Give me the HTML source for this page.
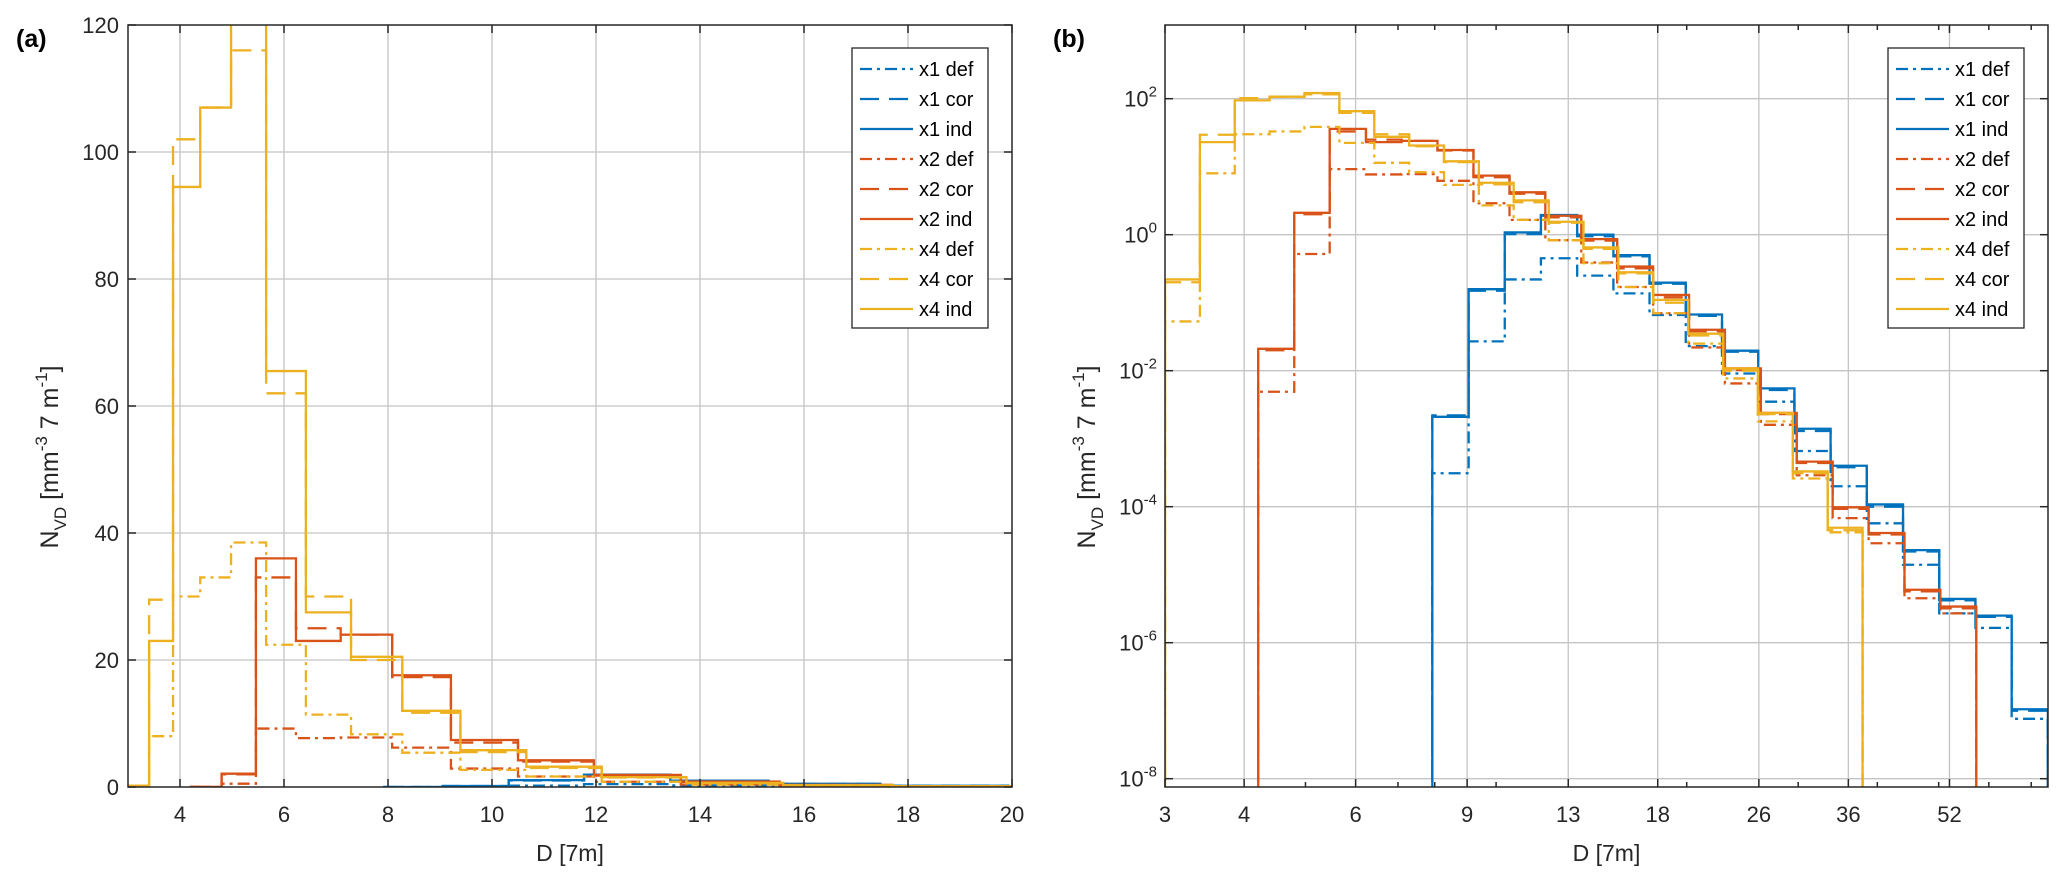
<!DOCTYPE html>
<html><head><meta charset="utf-8"><style>
html,body{margin:0;padding:0;background:#fff;}
svg{display:block;font-family:"Liberation Sans",sans-serif;}
</style></head><body>
<svg id="fig" width="2067" height="884" viewBox="0 0 2067 884" xmlns="http://www.w3.org/2000/svg">
<defs>
<clipPath id="clipA"><rect x="128" y="25" width="884" height="762"/></clipPath>
<clipPath id="clipB"><rect x="1165" y="25" width="883" height="762"/></clipPath>
</defs>
<g id="gA"></g>
<g id="gB"></g>
</svg>
<script>
// ---- data ----
const yEdges = [3.0,3.406,3.866,4.389,4.982,5.656,6.421,7.289,8.275,9.393,10.66,12.11,13.74,15.60,17.71,20.11,22.83,25.91,29.42,33.39,37.91];
const rEdges = [4.21,4.80,5.46,6.23,7.09,8.08,9.21,10.50,11.96,13.63,15.53,17.70,20.17,22.98,26.19,29.84,34.00,38.75,44.15,50.31,57.33];
const bEdges = [7.93,9.05,10.32,11.77,13.43,15.32,17.47,19.93,22.74,25.94,29.59,33.75,38.50,43.92,50.10,57.15,65.19,74.37];

const x1Def = [3.1e-4,0.027,0.22,0.45,0.25,0.137,0.066,0.023,0.0091,0.0035,6.6e-4,2e-4,5.7e-5,1.4e-5,2.7e-6,1.65e-6,7.6e-8];
const x1Cor = [0.0022,0.15,1.02,1.9,0.95,0.48,0.19,0.064,0.019,0.0052,0.0013,3.8e-4,1.0e-4,2.2e-5,4.2e-6,2.4e-6,1.0e-7];
const x1Ind = [0.0021,0.158,1.08,1.95,1.0,0.5,0.197,0.067,0.0197,0.0055,0.0014,4e-4,1.08e-4,2.3e-5,4.4e-6,2.5e-6,1.05e-7];
const x2Def = [0.0049,0.52,9.2,7.7,7.8,6.2,2.9,1.65,0.83,0.39,0.17,0.07,0.022,0.0065,0.0016,2.9e-4,6.8e-5,2.9e-5,4.5e-6,2.7e-6];
const x2Cor = [0.02,2.0,33,25,24,17.3,7.0,4.0,1.8,0.82,0.32,0.12,0.038,0.0102,0.0023,4.4e-4,9.3e-5,3.9e-5,5.7e-6,3.2e-6];
const x2Ind = [0.021,2.1,36,23,24,17.6,7.4,4.2,1.9,0.86,0.34,0.13,0.04,0.0108,0.0024,4.6e-4,9.8e-5,4.1e-5,6e-6,3.4e-6];
const x4Def = [0.053,8,30,33,38.5,22.4,11.4,8.3,5.4,2.7,1.65,0.83,0.38,0.17,0.07,0.025,0.0077,0.0018,2.6e-4,4.2e-5];
const x4Cor = [0.2,29.5,102,107,116,62,30,20,11.7,5.5,3.0,1.5,0.62,0.27,0.1,0.033,0.010,0.0023,3.1e-4,4.5e-5];
const x4Ind = [0.22,23,94.5,107,121,65.5,27.5,20.5,12,5.8,3.2,1.55,0.65,0.28,0.11,0.035,0.0108,0.0024,3.3e-4,4.9e-5];

const seriesNames = ['x1 def','x1 cor','x1 ind','x2 def','x2 cor','x2 ind','x4 def','x4 cor','x4 ind'];
const aXTicks = [4,6,8,10,12,14,16,18,20];
const aYTicks = [0,20,40,60,80,100,120];
const bXTicks = [3,4,6,9,13,18,26,36,52];
const bXMinor = [5,7,8,10,20,30,40,50,60,70];
const bYExp = [-8,-6,-4,-2,0,2];

// ---- helpers ----
const NS='http://www.w3.org/2000/svg';
function mk(tag, attrs, parent){const e=document.createElementNS(NS,tag);for(const k in attrs)e.setAttribute(k,attrs[k]);parent.appendChild(e);return e;}
const BLUE='#0072BD', RED='#D95319', YEL='#EDB120';
const DASHDOT='12,5,3,5', DASH='19,10';
const series=[
 {v:x1Def,e:bEdges,c:BLUE,d:DASHDOT,n:'x1-def'},
 {v:x1Cor,e:bEdges,c:BLUE,d:DASH,n:'x1-cor'},
 {v:x1Ind,e:bEdges,c:BLUE,d:'',n:'x1-ind'},
 {v:x2Def,e:rEdges,c:RED,d:DASHDOT,n:'x2-def'},
 {v:x2Cor,e:rEdges,c:RED,d:DASH,n:'x2-cor'},
 {v:x2Ind,e:rEdges,c:RED,d:'',n:'x2-ind'},
 {v:x4Def,e:yEdges,c:YEL,d:DASHDOT,n:'x4-def'},
 {v:x4Cor,e:yEdges,c:YEL,d:DASH,n:'x4-cor'},
 {v:x4Ind,e:yEdges,c:YEL,d:'',n:'x4-ind'}];

const A={l:128,r:1012,t:25,b:787};
const B={l:1165,r:2048,t:25,b:787};
const axA={x:D=>A.l+(D-3)*52, y:v=>A.b-v*6.35};
const axB={x:D=>B.l+275*Math.log(D/3), y:v=>{ if(v<=0) return B.b+20; return 234.7-68*Math.log10(v);} };

function panel(g, box, ax, isLog, clip, label){
  const grid=mk('g',{},g);
  
  
  const xt = isLog?bXTicks:aXTicks;
  xt.forEach(t=>{const x=ax.x(t); if(x>box.l+1&&x<box.r-1) mk('line',{x1:x,x2:x,y1:box.t,y2:box.b,stroke:'#c4c4c4','stroke-width':1.3},grid);});
  const yt = isLog?bYExp.map(e=>Math.pow(10,e)):aYTicks;
  yt.forEach(t=>{const y=ax.y(t); if(y>box.t+1&&y<box.b-1) mk('line',{x1:box.l,x2:box.r,y1:y,y2:y,stroke:'#c4c4c4','stroke-width':1.3},grid);});
  const sg=mk('g',{'clip-path':'url(#'+clip+')'},g);
  series.forEach(s=>{
    const base = isLog? box.b+20 : ax.y(0);
    let d='M'+ax.x(s.e[0])+','+base;
    s.v.forEach((v,i)=>{const y=ax.y(v); d+=' L'+ax.x(s.e[i])+','+y+' L'+ax.x(s.e[i+1])+','+y;});
    d+=' L'+ax.x(s.e[s.v.length])+','+base;
    const p=mk('path',{d:d,fill:'none',stroke:s.c,'stroke-width':2.3},sg);
    if(s.d)p.setAttribute('stroke-dasharray',s.d);
    
    
  });
  const bx=mk('rect',{x:box.l,y:box.t,width:box.r-box.l,height:box.b-box.t,fill:'none',stroke:'#262626','stroke-width':1.5},g);
  
  
  const tk=mk('g',{stroke:'#262626','stroke-width':1.5},g);
  const tl=mk('g',{fill:'#262626','font-size':'22px'},g);
  
  
  xt.forEach(t=>{const x=ax.x(t);
    mk('line',{x1:x,x2:x,y1:box.b,y2:box.b-8},tk);mk('line',{x1:x,x2:x,y1:box.t,y2:box.t+8},tk);
    const tx=mk('text',{x:x,y:box.b+35,'text-anchor':'middle'},tl);tx.textContent=String(t);
  });
  if(isLog){bXMinor.forEach(t=>{const x=ax.x(t); if(x<box.r){mk('line',{x1:x,x2:x,y1:box.b,y2:box.b-5},tk);mk('line',{x1:x,x2:x,y1:box.t,y2:box.t+5},tk);}});}
  yt.forEach((t,i)=>{const y=ax.y(t);
    mk('line',{x1:box.l,x2:box.l+8,y1:y,y2:y},tk);mk('line',{x1:box.r,x2:box.r-8,y1:y,y2:y},tk);
    if(isLog){
      const tx=mk('text',{x:box.l-8,y:y+8,'text-anchor':'end'},tl);
      const t1=mk('tspan',{},tx);t1.textContent='10';
      const t2=mk('tspan',{dy:-10,'font-size':'15px'},tx);t2.textContent=String(bYExp[i]);
    } else {
      const tx=mk('text',{x:box.l-9,y:y+8,'text-anchor':'end'},tl);tx.textContent=String(t);
    }
  });
  const xtitle=mk('text',{x:(box.l+box.r)/2,y:861,'text-anchor':'middle','font-size':'23px',fill:'#262626'},g);
  xtitle.textContent='D [7m]';
  
  
  const yx=box.l-70;
  const yti=mk('text',{x:0,y:0,'text-anchor':'middle','font-size':'25px',fill:'#262626',transform:'translate('+yx+',457) rotate(-90)'},g);
  
  
  const a=mk('tspan',{},yti);a.textContent='N';
  const b=mk('tspan',{dy:8,'font-size':'17px'},yti);b.textContent='VD';
  const c=mk('tspan',{dy:-8},yti);c.textContent='  [mm';
  const d=mk('tspan',{dy:-11,'font-size':'17px'},yti);d.textContent='-3';
  const e=mk('tspan',{dy:11},yti);e.textContent='  7 m';
  const f=mk('tspan',{dy:-11,'font-size':'17px'},yti);f.textContent='-1';
  const h=mk('tspan',{dy:11},yti);h.textContent=']';
  const pl=mk('text',{x:label.x,y:47,'font-size':'25px','font-weight':'bold',fill:'#000'},g);
  pl.textContent=label.t;
  
  
  const lx=box.r-160, ly=48;
  const lg=mk('g',{},g);
  
  
  mk('rect',{x:lx,y:ly,width:136,height:280,fill:'#fff',stroke:'#262626','stroke-width':1.3},lg);
  series.forEach((s,i)=>{
    const ey=ly+21+i*30;
    const eg=mk('g',{},lg);
    
    
    const ln=mk('line',{x1:lx+8,x2:lx+61,y1:ey,y2:ey,stroke:s.c,'stroke-width':2.3},eg);
    if(s.d)ln.setAttribute('stroke-dasharray',s.d);
    const t=mk('text',{x:lx+67,y:ey+7,'font-size':'20px',fill:'#000'},eg);
    t.textContent=seriesNames[i];
  });
}
panel(document.getElementById('gA'),A,axA,false,'clipA',{x:16,t:'(a)'});
panel(document.getElementById('gB'),B,axB,true,'clipB',{x:1053,t:'(b)'});
</script>
</body></html>
